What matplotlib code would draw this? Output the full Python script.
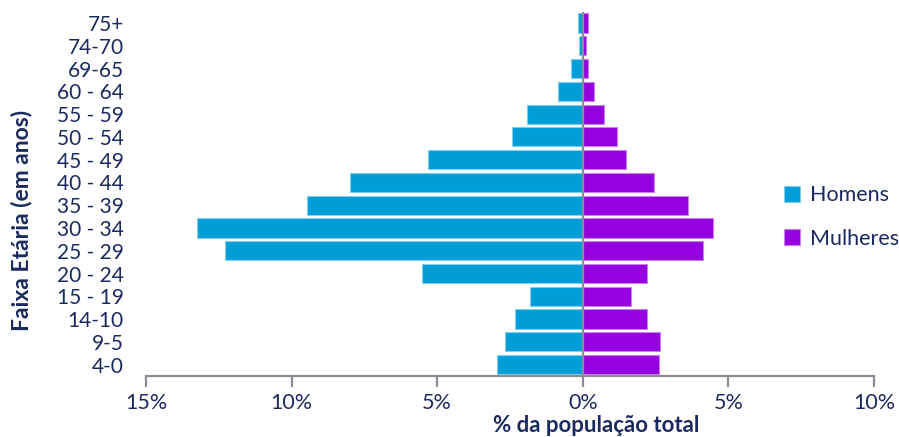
import matplotlib
matplotlib.use("Agg")
import matplotlib.pyplot as plt
from matplotlib.ticker import FixedLocator, FuncFormatter

plt.rcParams['font.family'] = ['Lato', 'DejaVu Sans']

# Age groups (bottom to top) and share of total population, in %
faixas = ["4-0", "9-5", "14-10", "15 - 19", "20 - 24", "25 - 29", "30 - 34",
          "35 - 39", "40 - 44", "45 - 49", "50 - 54", "55 - 59", "60 - 64",
          "69-65", "74-70", "75+"]
homens = [2.94, 2.68, 2.33, 1.82, 5.53, 12.28, 13.26, 9.48, 8.00, 5.31,
          2.42, 1.91, 0.84, 0.39, 0.13, 0.17]
mulheres = [2.63, 2.66, 2.22, 1.65, 2.20, 4.13, 4.48, 3.61, 2.46, 1.50,
            1.18, 0.74, 0.40, 0.18, 0.12, 0.17]
xticks = [-15, -10, -5, 0, 5, 10]

navy = "#1B2A5E"
azul = "#009ED8"
roxo = "#9400DE"

fig = plt.figure(figsize=(8.99, 4.37), dpi=100)
ax = fig.add_axes([0.1624, 0.1396, 0.8098, 0.8339])

pos = list(range(len(faixas)))
ax.barh(pos, [-v for v in homens], height=0.84, color=azul,
        edgecolor="#80CFEC", linewidth=0.8, label="Homens")
ax.barh(pos, mulheres, height=0.84, color=roxo,
        edgecolor="#C97FEE", linewidth=0.8, label="Mulheres")

ax.axvline(0, color="#8C8C96", linewidth=1.6, zorder=3)

ax.set_xlim(-15, 10)
ax.set_ylim(-0.5, len(faixas) - 0.5)
ax.set_yticks(pos)
ax.set_yticklabels(faixas)
ax.xaxis.set_major_locator(FixedLocator(xticks))
ax.xaxis.set_major_formatter(FuncFormatter(lambda v, p: f"{abs(v):.0f}%"))

for s in ("top", "right", "left"):
    ax.spines[s].set_visible(False)
ax.spines["bottom"].set_color("#8C8C96")
ax.spines["bottom"].set_linewidth(1.6)
ax.tick_params(axis="x", direction="out", length=8, width=1.6, color="#8C8C96",
               labelsize=15.5, labelcolor=navy, pad=4)
ax.tick_params(axis="y", length=0, labelsize=15, labelcolor=navy, pad=16)

fig.text(596 / 899, 1 - 425 / 437, "% da população total", fontsize=16,
         fontweight="bold", color=navy, ha="center", va="center")
fig.text(22 / 899, 1 - 220 / 437, "Faixa Etária (em anos)", rotation=90,
         fontsize=16.5, fontweight="bold", color=navy, ha="center", va="center")

fig.legend(loc="center left", bbox_to_anchor=(784 / 899, 1 - 217 / 437),
           frameon=False, borderpad=0, borderaxespad=0,
           fontsize=15.5, labelcolor=navy, handlelength=0.75, handleheight=0.75,
           handletextpad=0.45, labelspacing=1.1)

fig.savefig("out.png", dpi=100)
